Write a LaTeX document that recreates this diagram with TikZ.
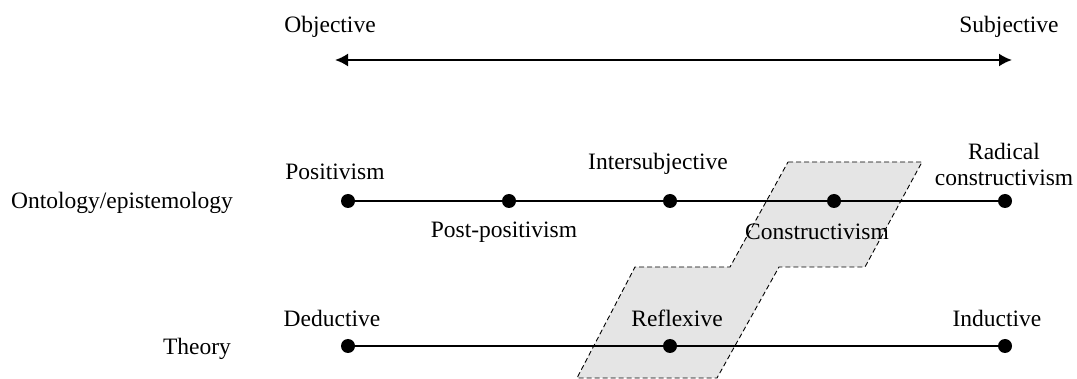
\documentclass[tikz,border=0pt]{standalone}
\usepackage{fontspec}
\setmainfont{Liberation Serif}
\usetikzlibrary{arrows.meta}
\begin{document}
\begin{tikzpicture}[x=1pt,y=-1pt,
  lbl/.style={font=\fontsize{23.5}{26}\selectfont, inner sep=0pt, align=center},
  dot/.style={circle, fill=black, inner sep=0pt, minimum size=14pt},
  axis/.style={line width=2pt},
  zone/.style={fill=gray!20, draw=black, dash pattern=on 5pt off 3pt, line width=0.9pt}]
\useasboundingbox (0,0) rectangle (1077,379);

% shaded zone linking constructivism and reflexive
\filldraw[zone] (788,162) -- (922,162) -- (865,267) -- (779,267) -- (717,378)
  -- (577,378) -- (635,267) -- (730,267) -- cycle;

% objective--subjective scale
\node[lbl] (obj) at (330,27) {Objective};
\node[lbl] (subj) at (1009,27) {Subjective};
\coordinate (al) at (335,60);
\coordinate (ar) at (1012,60);
\draw[axis, {Latex[length=13pt,width=13pt]}-{Latex[length=13pt,width=13pt]}] (al) -- (ar);

% ontology / epistemology line
\node[lbl] (onto) at (122,203) {Ontology/epistemology};
\node[dot] (p1) at (348,201) {};
\node[dot] (p2) at (509,201) {};
\node[dot] (p3) at (670,201) {};
\node[dot] (p4) at (834,201) {};
\node[dot] (p5) at (1005,201) {};
\draw[axis] (p1) -- (p2) -- (p3) -- (p4) -- (p5);
\node[lbl] at (335,172) {Positivism};
\node[lbl] at (504,232) {Post-positivism};
\node[lbl] at (658,164) {Intersubjective};
\node[lbl] at (817,232) {Constructivism};
\node[lbl] at (1004,164) {Radical\\constructivism};

% theory line
\node[lbl] (theory) at (197,349) {Theory};
\node[dot] (t1) at (348,346) {};
\node[dot] (t2) at (670,346) {};
\node[dot] (t3) at (1005,346) {};
\draw[axis] (t1) -- (t2) -- (t3);
\node[lbl] at (332,318) {Deductive};
\node[lbl] at (677,318) {Reflexive};
\node[lbl] at (997,318) {Inductive};
\end{tikzpicture}
\end{document}
